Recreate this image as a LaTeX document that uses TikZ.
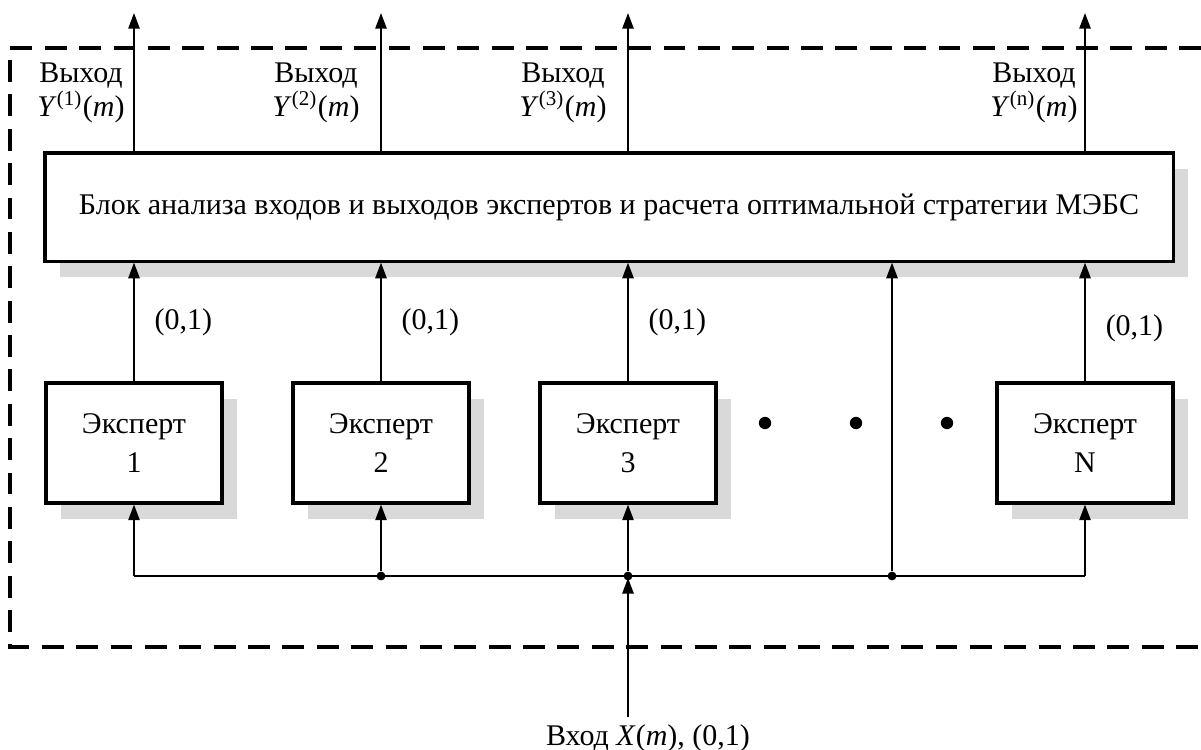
\documentclass[tikz,border=0pt]{standalone}
\usepackage{fontspec}
\setmainfont{Liberation Serif}
\usetikzlibrary{arrows.meta, positioning, shadows}

\tikzset{
  shadowbox/.style={draw, line width=1pt, fill=white,
    drop shadow={shadow xshift=4.8pt, shadow yshift=-5.2pt, fill=black!15, opacity=1}},
  mainblock/.style={shadowbox, minimum width=361pt, minimum height=34.6pt},
  expert/.style={shadowbox, minimum width=56.3pt, minimum height=38.4pt, align=center},
  wire/.style={line width=0.6pt},
  arr/.style={wire, -{Triangle[length=5pt,width=3.6pt]}},
  frame/.style={line width=1pt, dash pattern=on 7pt off 4pt},
  dot/.style={circle, fill, inner sep=1pt},
  bigdot/.style={circle, fill, inner sep=1.4pt},
  outlbl/.style={align=center, inner sep=1pt}
}

\begin{document}
\begin{tikzpicture}[x=0.32pt, y=-0.32pt, font=\fontsize{9.6}{11}\selectfont]
\useasboundingbox (0,0) rectangle (1201,749);

% outer dashed frame (open to the right)
\draw[frame] (1201,48) -- (10,48) -- (10,647) -- (1201,647);

% blocks
\node[mainblock] (blk) at (609,207) {Блок анализа входов и выходов экспертов и расчета оптимальной стратегии МЭБС};
\node[expert] (e1) at (134,443) {Эксперт\\[1.5pt]1};
\node[expert] (e2) at (381,443) {Эксперт\\[1.5pt]2};
\node[expert] (e3) at (628,443) {Эксперт\\[1.5pt]3};
\node[expert] (eN) at (1085,443) {Эксперт\\[1.5pt]N};

\node[bigdot] (p1) at (765,423) {};
\node[bigdot] (p2) at (856,423) {};
\node[bigdot] (p3) at (947,423) {};

% outputs
\coordinate (o1) at (134,13);
\coordinate (o2) at (381,13);
\coordinate (o3) at (628,13);
\coordinate (oN) at (1085,13);
\draw[arr] (blk.north -| o1) -- (o1);
\draw[arr] (blk.north -| o2) -- (o2);
\draw[arr] (blk.north -| o3) -- (o3);
\draw[arr] (blk.north -| oN) -- (oN);
\node[outlbl] (y1) at (81,93) {Выход\\\textit{Y}\textsuperscript{(1)}(\textit{m})};
\node[outlbl] (y2) at (316,93) {Выход\\\textit{Y}\textsuperscript{(2)}(\textit{m})};
\node[outlbl] (y3) at (563,93) {Выход\\\textit{Y}\textsuperscript{(3)}(\textit{m})};
\node[outlbl] (yN) at (1034,93) {Выход\\\textit{Y}\textsuperscript{(n)}(\textit{m})};

% expert outputs into the block
\draw[arr] (e1.north) -- (e1.north |- blk.south) node[midway, right, xshift=3pt] {(0,1)};
\draw[arr] (e2.north) -- (e2.north |- blk.south) node[midway, right, xshift=3pt] {(0,1)};
\draw[arr] (e3.north) -- (e3.north |- blk.south) node[midway, right, xshift=3pt] {(0,1)};
\draw[arr] (eN.north) -- (eN.north |- blk.south) node[pos=0.45, right, xshift=3pt] {(0,1)};

% input bus
\coordinate (j1) at (134,576);
\node[dot] (j2) at (381,576) {};
\node[dot] (j3) at (628,576) {};
\node[dot] (j4) at (892,576) {};
\coordinate (j5) at (1085,576);
\draw[wire] (j1) -- (j5);
\draw[arr] (j1) -- (e1.south);
\draw[arr] (j2) -- (e2.south);
\draw[arr] (j3) -- (e3.south);
\draw[arr] (j5) -- (eN.south);
\draw[arr] (j4) -- (j4 |- blk.south);

\coordinate (in) at (628,717);
\draw[arr, shorten >=-1pt] (in) -- (j3);
\node (inlbl) at (648,738) {Вход \textit{X}(\textit{m}), (0,1)};
\end{tikzpicture}
\end{document}
